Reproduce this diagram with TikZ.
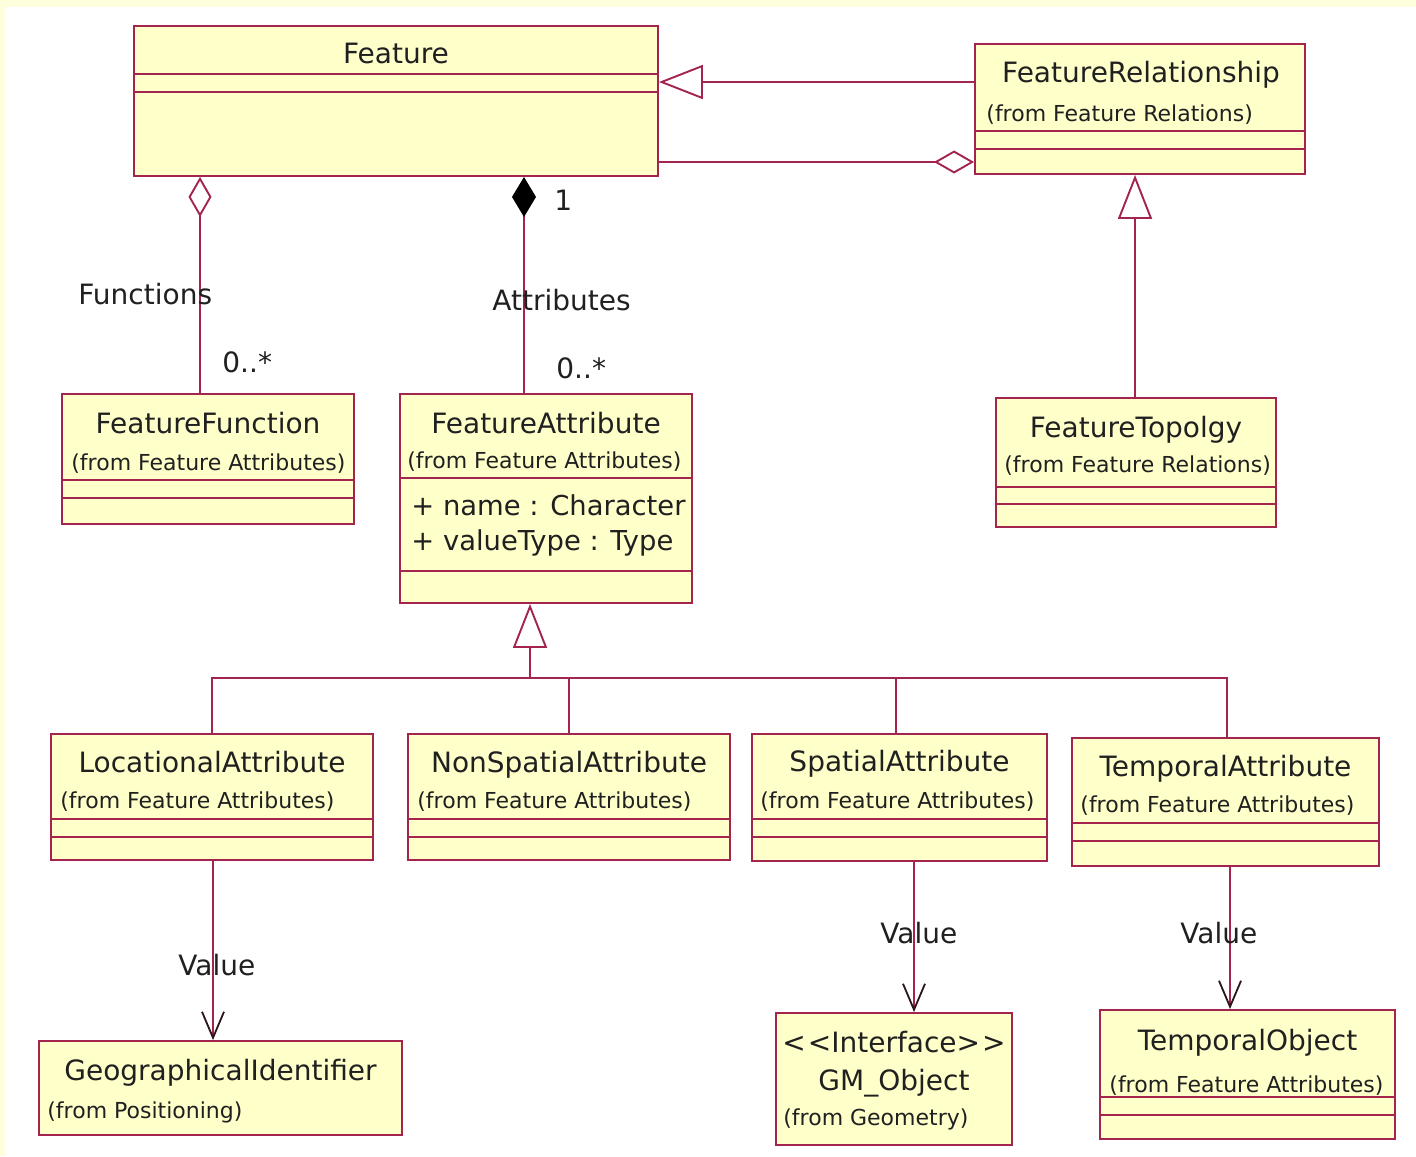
\documentclass[tikz,border=0pt]{standalone}
\usepackage{fontspec}
\setmainfont{DejaVu Sans}
\usetikzlibrary{arrows.meta,fit}

\definecolor{frameyellow}{HTML}{FEFEDC}
\definecolor{classfill}{HTML}{FFFFCA}
\definecolor{umlred}{HTML}{A3244C}
\definecolor{inkgrey}{HTML}{202020}
\definecolor{tipdark}{HTML}{2A1418}

\tikzset{
  x=0.5pt, y=-0.5pt,
  umlline/.style={draw=umlred, line width=0.95pt},
  classbox/.style={umlline, fill=classfill, inner sep=0pt},
  ctitle/.style={anchor=base, inner sep=0pt, text=inkgrey, font=\fontsize{14}{16}\selectfont},
  csub/.style={anchor=base west, inner sep=0pt, text=inkgrey, font=\fontsize{11}{13}\selectfont},
  cattr/.style={anchor=base west, inner sep=0pt, text=inkgrey, font=\fontsize{13.7}{16}\selectfont},
  rolelabel/.style={anchor=base west, inner sep=0pt, text=inkgrey, font=\fontsize{14}{16}\selectfont},
  generalize/.style={umlline, -{Triangle[open, length=22pt, width=17pt, fill=white]}},
  aggregate/.style={umlline, {Diamond[open, length=20pt, width=11.5pt, fill=white]}-},
  compose/.style={umlline, {Diamond[length=20pt, width=12pt, color=black]}-},
  navigate/.style={umlline, -{Straight Barb[length=13pt, width=11pt, color=tipdark, line width=0.9pt]}},
}

% compartment separator across a class box at a given y
\newcommand\compsep[2]{\draw[umlline] (#1.west |- 0,#2) -- (#1.east |- 0,#2);}

\begin{document}
\begin{tikzpicture}
  \useasboundingbox (0,0) rectangle (1416,1156);
  \fill[frameyellow] (0,0) rectangle (1416,1156);
  \fill[white] (5,7) rectangle (1416,1156);

  % ---- class boxes ----
  \node[classbox, fit={(134,26) (658,176)}] (feat) {};
  \compsep{feat}{74}\compsep{feat}{92}
  \node[classbox, fit={(975,44) (1305,174)}] (frel) {};
  \compsep{frel}{131}\compsep{frel}{149}
  \node[classbox, fit={(62,394) (354,524)}] (ffun) {};
  \compsep{ffun}{480}\compsep{ffun}{498}
  \node[classbox, fit={(400,394) (692,603)}] (fatt) {};
  \compsep{fatt}{478}\compsep{fatt}{571}
  \node[classbox, fit={(996,398) (1276,527)}] (ftop) {};
  \compsep{ftop}{487}\compsep{ftop}{504}
  \node[classbox, fit={(51,734) (373,860)}] (loc) {};
  \compsep{loc}{819}\compsep{loc}{837}
  \node[classbox, fit={(408,734) (730,860)}] (nsp) {};
  \compsep{nsp}{819}\compsep{nsp}{837}
  \node[classbox, fit={(752,734) (1047,861)}] (spa) {};
  \compsep{spa}{819}\compsep{spa}{837}
  \node[classbox, fit={(1072,738) (1379,866)}] (tmp) {};
  \compsep{tmp}{823}\compsep{tmp}{841}
  \node[classbox, fit={(39,1041) (402,1135)}] (geo) {};
  \node[classbox, fit={(776,1013) (1012,1145)}] (gmo) {};
  \node[classbox, fit={(1100,1010) (1395,1139)}] (tob) {};
  \compsep{tob}{1097}\compsep{tob}{1115}

  % ---- class texts ----
  \node[ctitle] (featT) at (396,64) {Feature};
  \node[ctitle] (frelT) at (1141,83) {FeatureRelationship};
  \node[csub] (frelS) at (986,121) {(from Feature Relations)};
  \node[ctitle] (ffunT) at (208,433) {FeatureFunction};
  \node[csub] (ffunS) at (71,470) {(from Feature Attributes)};
  \node[ctitle] (fattT) at (546,433) {FeatureAttribute};
  \node[csub] (fattS) at (407,468) {(from Feature Attributes)};
  \node[cattr] (fattA) at (411,515) {+ name : Character};
  \node[cattr] (fattB) at (411,550) {+ valueType : Type};
  \node[ctitle] (ftopT) at (1136,437) {FeatureTopolgy};
  \node[csub] (ftopS) at (1004,472) {(from Feature Relations)};
  \node[ctitle] (locT) at (212,772) {LocationalAttribute};
  \node[csub] (locS) at (60,808) {(from Feature Attributes)};
  \node[ctitle] (nspT) at (569,772) {NonSpatialAttribute};
  \node[csub] (nspS) at (417,808) {(from Feature Attributes)};
  \node[ctitle] (spaT) at (899.5,771) {SpatialAttribute};
  \node[csub] (spaS) at (760,808) {(from Feature Attributes)};
  \node[ctitle] (tmpT) at (1225.5,776) {TemporalAttribute};
  \node[csub] (tmpS) at (1080,812) {(from Feature Attributes)};
  \node[ctitle] (geoT) at (220.5,1080) {GeographicalIdentifier};
  \node[csub] (geoS) at (47,1118) {(from Positioning)};
  \node[ctitle] (gmoI) at (894,1052) {<\kern1pt<Interface>\kern1pt>};
  \node[ctitle] (gmoT) at (894,1090) {GM\_Object};
  \node[csub] (gmoS) at (783,1125) {(from Geometry)};
  \node[ctitle] (tobT) at (1247.5,1050) {TemporalObject};
  \node[csub] (tobS) at (1109,1092) {(from Feature Attributes)};

  % ---- relations around Feature ----
  \draw[generalize] (frel.west |- 0,82) -- (feat.east |- 0,82);
  \draw[aggregate] (frel.west |- 0,162) -- (feat.east |- 0,162);
  \draw[generalize] (ftop.north -| 1135,0) -- (frel.south -| 1135,0);
  \draw[aggregate] (feat.south -| 200,0) -- (ffun.north -| 200,0);
  \draw[compose] (feat.south -| 524,0) -- (fatt.north -| 524,0);

  % ---- specialisations of FeatureAttribute ----
  \coordinate (hub) at (530,678);
  \draw[generalize] (hub) -- (hub |- fatt.south);
  \draw[umlline] (loc.north) |- (hub);
  \draw[umlline] (nsp.north) -- (nsp.north |- hub);
  \draw[umlline] (spa.north -| 896,0) -- (896,678);
  \draw[umlline] (tmp.north -| 1227,0) |- (hub);

  % ---- value navigations ----
  \draw[navigate] (loc.south -| 213,0) -- (geo.north -| 213,0);
  \draw[navigate] (spa.south -| 914,0) -- (gmo.north -| 914,0);
  \draw[navigate] (tmp.south -| 1230,0) -- (tob.north -| 1230,0);

  % ---- role names and multiplicities ----
  \node[rolelabel] (lblFun) at (78,304) {Functions};
  \node[rolelabel] (mulFun) at (222,372) {0..*};
  \node[rolelabel] (lblAtt) at (492,310) {Attributes};
  \node[rolelabel] (mulAtt) at (556,378) {0..*};
  \node[rolelabel] (mulOne) at (554,210) {1};
  \node[rolelabel] (valLoc) at (178,975) {Value};
  \node[rolelabel] (valSpa) at (880,943) {Value};
  \node[rolelabel] (valTmp) at (1180,943) {Value};
\end{tikzpicture}
\end{document}
